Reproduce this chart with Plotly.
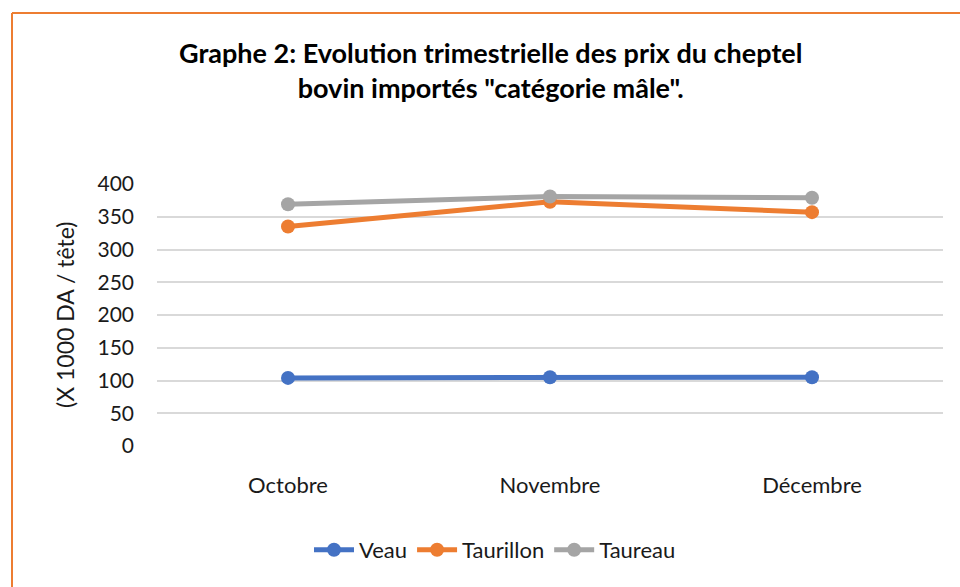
import plotly.graph_objects as go

months = ["Octobre", "Novembre", "Décembre"]
veau = [104, 105, 105]
taurillon = [335, 373, 357]
taureau = [369, 381, 379]
series_names = ["Veau", "Taurillon", "Taureau"]
colors = ["#4472C4", "#ED7D31", "#A5A5A5"]
y_ticks = [0, 50, 100, 150, 200, 250, 300, 350, 400]

FONT = "Lato, 'Open Sans', sans-serif"
TXT = "#1a1a1a"

fig = go.Figure()
for name, vals, col in zip(series_names, [veau, taurillon, taureau], colors):
    fig.add_trace(go.Scatter(
        x=months, y=vals, name=name, mode="lines+markers",
        line=dict(color=col, width=5),
        marker=dict(color=col, size=14),
    ))

L, R, T, B = 157, 17, 184, 141
W, H = 960, 587
pw, ph = W - L - R, H - T - B

def px_x(p):
    return (p - L) / pw

def px_y(p):
    return (H - B - p) / ph

fig.update_layout(
    width=W, height=H,
    margin=dict(l=L, r=R, t=T, b=B),
    paper_bgcolor="white", plot_bgcolor="white",
    font=dict(family=FONT, color=TXT, size=20),
    showlegend=True,
    legend=dict(orientation="h", x=px_x(495), xanchor="center",
                y=px_y(550), yanchor="middle",
                font=dict(size=22, color=TXT), itemwidth=40,
                tracegroupgap=0),
    xaxis=dict(showgrid=False, showline=False, zeroline=False,
               tickfont=dict(size=22, color=TXT), ticklabelstandoff=24,
               range=[-0.5, 2.5], fixedrange=True),
    yaxis=dict(range=[0, 400], tickvals=y_ticks, showgrid=True,
               gridcolor="#D9D9D9", gridwidth=1.5, zeroline=False,
               showline=False, tickfont=dict(size=21, color=TXT),
               ticklabelstandoff=22),
    annotations=[
        dict(text="<b>Graphe 2: Evolution trimestrielle des prix du cheptel<br>bovin importés \"catégorie mâle\".</b>",
             xref="paper", yref="paper", x=px_x(490), y=px_y(70),
             xanchor="center", yanchor="middle", showarrow=False,
             font=dict(size=27, color="#000000", family=FONT)),
        dict(text="(X 1000 DA / tête)", textangle=-90,
             xref="paper", yref="paper", x=px_x(65), y=px_y(315),
             xanchor="center", yanchor="middle", showarrow=False,
             font=dict(size=23, color=TXT, family=FONT)),
    ],
    shapes=[
        dict(type="line", xref="paper", yref="paper",
             x0=px_x(12), x1=px_x(965), y0=px_y(13), y1=px_y(13),
             line=dict(color="#ED7D31", width=2)),
        dict(type="line", xref="paper", yref="paper",
             x0=px_x(12), x1=px_x(12), y0=px_y(13), y1=px_y(595),
             line=dict(color="#ED7D31", width=2)),
    ],
)

fig.write_html("out.html", config={"displayModeBar": False})
with open("out.html", "r", encoding="utf-8") as f:
    html = f.read()
html = html.replace("<body>", '<body style="margin:0;overflow:hidden">', 1)
with open("out.html", "w", encoding="utf-8") as f:
    f.write(html)
